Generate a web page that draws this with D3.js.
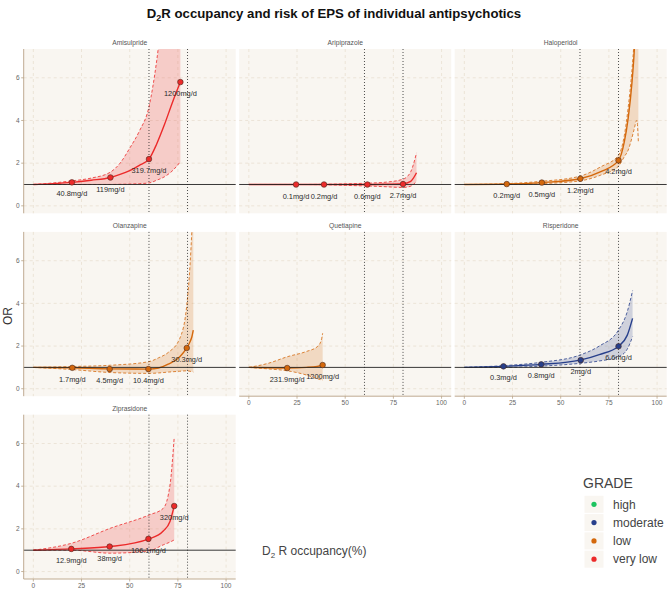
<!DOCTYPE html>
<html><head><meta charset="utf-8">
<script src="https://cdn.jsdelivr.net/npm/d3@7"></script>
<style>
body{margin:0;background:#fff;}
text{font-family:"Liberation Sans",Arial,Helvetica,sans-serif;}
</style>
</head><body>
<svg id="chart" width="667" height="593"></svg>
<script>
// ---------------- data ----------------
const drugs = ["Amisulpride","Aripiprazole","Haloperidol","Olanzapine","Quetiapine","Risperidone","Ziprasidone"];
const drugGrades = ["very low","very low","low","low","low","moderate","very low"];
const gradeLevels = ["high","moderate","low","very low"];
const gradeColors = ["#1CC460","#273F8B","#D4680C","#EC2A2A"];
const xTicks = [0,25,50,75,100];
const yTicks = [0,2,4,6];
const refOccupancy = [60,80];
const refOR = 1;

// curve rows: [occupancy %, OR fit, lower CI, upper CI]
const amisulprideCurve = [[0,1,1,1],[10,1.04,1.0,1.07],[20,1.10,1.0,1.17],[30,1.2,1.0,1.3],[40,1.33,1.0,1.58],[45,1.47,1.01,2.0],[50,1.65,1.02,2.7],[55,1.9,1.04,3.5],[60,2.19,1.07,4.64],[64,2.9,1.2,6.8],[68,3.8,1.36,10],[72.6,4.95,1.68,14],[76.3,5.8,2.07,18]];
const aripiprazoleCurve = [[0,1,1,1],[25,1,1,1],[40,1,0.99,1.01],[50,1.0,0.96,1.03],[61,1.0,0.93,1.06],[70,1.01,0.9,1.1],[80,1.04,0.86,1.25],[84,1.15,0.92,1.6],[87,1.55,1.15,2.48]];
const haloperidolCurve = [[0,1,1,1],[22,1.02,1.0,1.04],[40,1.09,1.04,1.15],[60,1.27,1.17,1.39],[70.8,1.6,1.44,1.83],[80,2.13,1.86,2.37],[83,3.0,2.3,3.3],[85,4.1,2.61,4.6],[87,5.8,3.2,6.4],[88,7.0,3.55,7.6],[89.5,9.5,4.0,10],[90.3,11,3.0,12]];
const olanzapineCurve = [[0,1,1,1],[20,0.98,0.9,1.04],[40,0.93,0.76,1.1],[60,0.92,0.72,1.27],[65,0.97,0.74,1.45],[70,1.15,0.78,1.7],[76,1.5,0.82,2.36],[79.6,1.91,0.84,3.9],[81.3,2.2,0.82,5.8],[82.3,2.45,0.8,7.5],[83,2.75,0.78,9]];
const quetiapineCurve = [[0,1,1,1],[10,0.98,0.93,1.19],[20,0.97,0.84,1.5],[30,1.0,0.64,1.75],[35.5,1.05,0.47,1.97],[37.5,1.09,0.42,2.25],[38.3,1.11,0.4,2.6]];
const risperidoneCurve = [[0,1,1,1],[20,1.05,1.0,1.08],[40,1.14,1.06,1.24],[60,1.34,1.19,1.58],[70,1.6,1.3,2.0],[80,1.99,1.5,2.75],[84.5,2.5,1.85,3.6],[87.3,3.3,2.44,4.6]];
const ziprasidoneCurve = [[0,1,1,1],[20,1.06,1.0,1.33],[40,1.17,0.86,2.03],[60,1.53,0.97,2.65],[67.4,1.9,1.25,2.96],[70.9,2.35,1.38,4.05],[73.1,3.07,1.48,6.3]];

// dose points: [occupancy %, OR, dose label]
const amisulpridePoints = [[20,1.10,"40.8mg/d"],[40,1.33,"119mg/d"],[60,2.19,"319.7mg/d"],[76.3,5.8,"1200mg/d"]];
const aripiprazolePoints = [[24.5,1.0,"0.1mg/d"],[39,1.0,"0.2mg/d"],[61.5,1.0,"0.6mg/d"],[80,1.02,"2.7mg/d"]];
const haloperidolPoints = [[22,1.02,"0.2mg/d"],[40.2,1.09,"0.5mg/d"],[60.2,1.27,"1.2mg/d"],[80,2.13,"4.2mg/d"]];
const olanzapinePoints = [[20.2,0.98,"1.7mg/d"],[39.6,0.92,"4.5mg/d"],[59.7,0.92,"10.4mg/d"],[79.6,1.91,"30.3mg/d"]];
const quetiapinePoints = [[19.9,0.97,"231.9mg/d"],[38.3,1.11,"1200mg/d"]];
const risperidonePoints = [[20.3,1.05,"0.3mg/d"],[39.9,1.14,"0.8mg/d"],[60.4,1.34,"2mg/d"],[80,1.99,"6.6mg/d"]];
const ziprasidonePoints = [[19.7,1.06,"12.9mg/d"],[39.6,1.17,"38mg/d"],[59.7,1.53,"106.1mg/d"],[73.1,3.07,"320mg/d"]];

const curves = [amisulprideCurve,aripiprazoleCurve,haloperidolCurve,olanzapineCurve,quetiapineCurve,risperidoneCurve,ziprasidoneCurve];
const points = [amisulpridePoints,aripiprazolePoints,haloperidolPoints,olanzapinePoints,quetiapinePoints,risperidonePoints,ziprasidonePoints];

// ---------------- layout ----------------
const svg = d3.select("#chart");
const colLeft = [23.7, 239.2, 454.7];
const rowTop = [49, 231.9, 414.7];
const pw = 212, ph = 164.3;
const panelBg = "#F9F6F1", gridCol = "#E6DCCD", axisCol = "#B9A387";

const x = d3.scaleLinear().domain([-5,105]).range([0,pw]);
const y = d3.scaleLinear().domain([-0.35,7.35]).range([ph,0]);
const color = d3.scaleOrdinal().domain(gradeLevels).range(gradeColors);

svg.append("text").attr("x",334).attr("y",18).attr("text-anchor","middle")
  .attr("font-size",13.2).attr("font-weight","bold").attr("fill","#111")
  .call(t=>{t.append("tspan").text("D");
    t.append("tspan").attr("font-size",9).attr("dy",3).text("2");
    t.append("tspan").attr("dy",-3).text("R occupancy and risk of EPS of individual antipsychotics");});

drugs.forEach((drug,i)=>{
  const r = Math.floor(i/3), c = i%3;
  const g = svg.append("g").attr("transform",`translate(${colLeft[c]},${rowTop[r]})`);
  const col = color(drugGrades[i]);
  const data = curves[i];
  g.append("rect").attr("width",pw).attr("height",ph).attr("fill",panelBg);
  g.selectAll(".gx").data(xTicks).join("line").attr("x1",d=>x(d)).attr("x2",d=>x(d))
    .attr("y1",0).attr("y2",ph).attr("stroke",gridCol).attr("stroke-width",0.7).attr("stroke-dasharray","3,3");
  g.selectAll(".gy").data(yTicks).join("line").attr("y1",d=>y(d)).attr("y2",d=>y(d))
    .attr("x1",0).attr("x2",pw).attr("stroke",gridCol).attr("stroke-width",0.7).attr("stroke-dasharray","3,3");
  const cid = "clip"+i;
  g.append("clipPath").attr("id",cid).append("rect").attr("width",pw).attr("height",ph);
  const cg = g.append("g").attr("clip-path",`url(#${cid})`);
  const area = d3.area().x(d=>x(d[0])).y0(d=>y(d[2])).y1(d=>y(d[3])).curve(d3.curveMonotoneX);
  cg.append("path").attr("d",area(data)).attr("fill",col).attr("fill-opacity",0.2);
  [2,3].forEach(k=>{
    cg.append("path").attr("d",d3.line().x(d=>x(d[0])).y(d=>y(d[k])).curve(d3.curveMonotoneX)(data))
      .attr("fill","none").attr("stroke",col).attr("stroke-width",0.8).attr("stroke-dasharray","3,2");
  });
  g.append("line").attr("x1",0).attr("x2",pw).attr("y1",y(refOR)).attr("y2",y(refOR))
    .attr("stroke","#222").attr("stroke-width",0.9);
  refOccupancy.forEach(v=>{
    g.append("line").attr("x1",x(v)).attr("x2",x(v)).attr("y1",0).attr("y2",ph)
      .attr("stroke","#222").attr("stroke-width",0.8).attr("stroke-dasharray","1,2");
  });
  cg.append("path").attr("d",d3.line().x(d=>x(d[0])).y(d=>y(d[1])).curve(d3.curveMonotoneX)(data))
    .attr("fill","none").attr("stroke",col).attr("stroke-width",1.4);
  const pts = points[i];
  g.selectAll(".pt").data(pts).join("circle").attr("cx",d=>x(d[0])).attr("cy",d=>y(d[1])).attr("r",2.8)
    .attr("fill",col).attr("stroke","#4a2a20").attr("stroke-opacity",0.75).attr("stroke-width",0.8);
  g.selectAll(".lb").data(pts).join("text").attr("x",d=>x(d[0])).attr("y",d=>y(d[1])+11.5)
    .attr("dy","0.35em").attr("text-anchor","middle").attr("font-size",7.4).attr("fill","#2b2b2b").text(d=>d[2]);
  g.append("text").attr("x",pw/2).attr("y",-6.5).attr("dy","0.35em").attr("text-anchor","middle")
    .attr("font-size",6.7).attr("fill","#555").text(drug);
  if (c===0){
    g.append("line").attr("x1",0).attr("x2",0).attr("y1",0).attr("y2",ph).attr("stroke",axisCol).attr("stroke-width",0.9);
    yTicks.forEach(t=>{
      g.append("line").attr("x1",-2.5).attr("x2",0).attr("y1",y(t)).attr("y2",y(t)).attr("stroke",axisCol).attr("stroke-width",0.8);
      g.append("text").attr("x",-4).attr("y",y(t)).attr("dy","0.35em").attr("text-anchor","end")
        .attr("font-size",6.5).attr("fill","#666").text(t);
    });
  }
  if (i+3 >= drugs.length){
    g.append("line").attr("x1",0).attr("x2",pw).attr("y1",ph).attr("y2",ph).attr("stroke",axisCol).attr("stroke-width",0.9);
    xTicks.forEach(t=>{
      g.append("line").attr("x1",x(t)).attr("x2",x(t)).attr("y1",ph).attr("y2",ph+2.5).attr("stroke",axisCol).attr("stroke-width",0.8);
      g.append("text").attr("x",x(t)).attr("y",ph+6.5).attr("dy","0.35em").attr("text-anchor","middle")
        .attr("font-size",6.5).attr("fill","#666").text(t);
    });
  }
});

svg.append("text").attr("transform","translate(12,316) rotate(-90)").attr("text-anchor","middle")
  .attr("font-size",12).attr("fill","#333").text("OR");
svg.append("text").attr("x",262).attr("y",555).attr("font-size",12).attr("fill","#444")
  .call(t=>{t.append("tspan").text("D");
    t.append("tspan").attr("font-size",8).attr("dy",3).text("2");
    t.append("tspan").attr("dy",-3).text(" R occupancy(%)");});

const lg = svg.append("g");
lg.append("text").attr("x",583).attr("y",483).attr("dy","0.35em").attr("font-size",14).attr("fill","#444").text("GRADE");
gradeLevels.forEach((gl,k)=>{
  const cy = 504.3 + k*18.3;
  lg.append("rect").attr("x",584.5).attr("y",cy-8.5).attr("width",19).attr("height",17).attr("fill",panelBg);
  lg.append("circle").attr("cx",594).attr("cy",cy).attr("r",2.6).attr("fill",color(gl));
  lg.append("text").attr("x",613).attr("y",cy).attr("dy","0.35em").attr("font-size",12).attr("fill","#444").text(gl);
});
</script>
</body></html>
